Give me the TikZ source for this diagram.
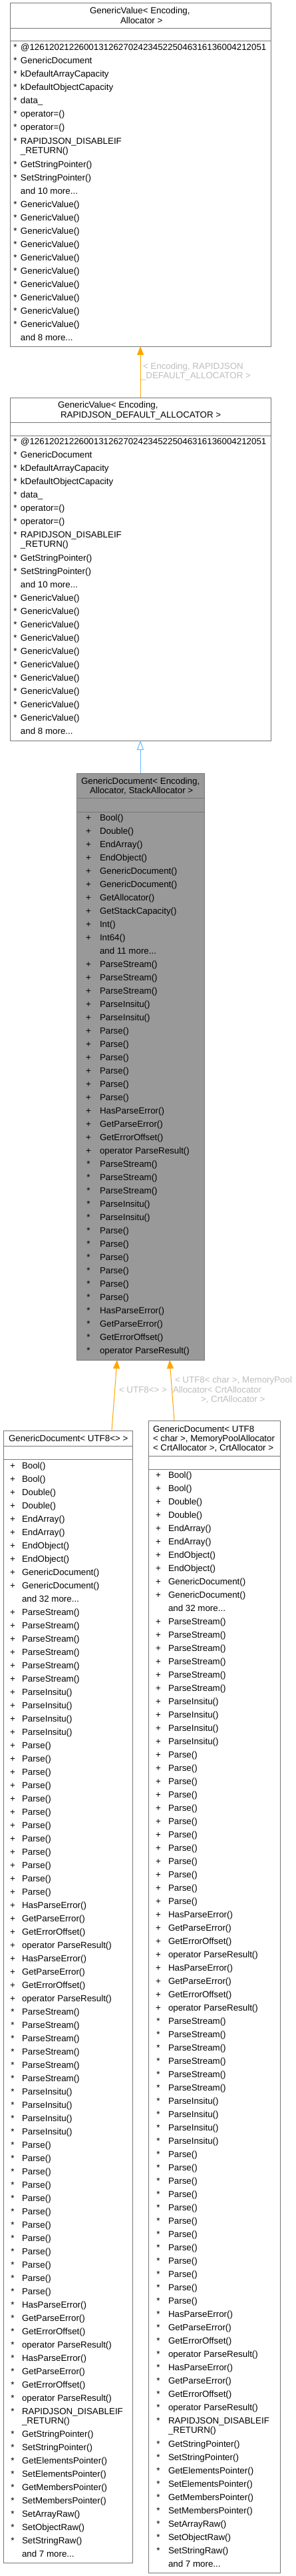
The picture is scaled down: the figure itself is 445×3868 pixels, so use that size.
\documentclass[tikz,border=0pt]{standalone}
\usepackage{fontspec}
\setmainfont{Liberation Sans}
\usetikzlibrary{arrows.meta,calc}
\definecolor{bordergray}{HTML}{777777}
\definecolor{docfill}{HTML}{999999}
\definecolor{tmplorange}{HTML}{FFA500}
\definecolor{inhblue}{HTML}{63B8FF}
\definecolor{lblgray}{HTML}{BEBEBE}
\tikzset{
  umlbox/.style={draw=bordergray, line width=0.75pt, inner sep=0pt, outer sep=0pt, anchor=north west},
  sepline/.style={draw=bordergray, line width=0.75pt},
  itm/.style={inner sep=0pt, outer sep=0pt, font=\fontsize{10}{12}\selectfont},
  ttl/.style={itm, anchor=base west},
  lbl/.style={itm, text=lblgray, anchor=base west},
  tmpl/.style={draw=tmplorange, line width=0.75pt, -{Triangle[length=9.75pt,width=7.5pt]}},
  inh/.style={draw=inhblue, line width=0.75pt, -{Triangle[open,length=10.5pt,width=7.5pt]}}
}
\def\tdots{...}
% #1 name, #2 x1, #3 y1, #4 x2, #5 y2, #6 fill
\newcommand\mkbox[6]{%
  \pgfmathsetmacro\bw{(#4-#2)*0.75}%
  \pgfmathsetmacro\bh{(#5-#3)*0.75}%
  \node[umlbox, fill=#6, minimum width=\bw pt, minimum height=\bh pt] (#1) at (#2,#3) {};}
\newcommand\sepat[2]{\draw[sepline] (#1.west |- 0,#2) -- (#1.east |- 0,#2);}
% #1 prefix, #2 marker x, #3 text x, #4 start y, #5 list macro
\newcommand\itemrows[5]{%
  \foreach \m/\t [count=\i from 0] in #5 {
    \node[itm, anchor=base] (#1m\i) at (#2, {#4+20*\i+4.5}) {\m};
    \node[itm, anchor=base west] (#1t\i) at (#3, {#4+20*\i+4.5}) {\t};
  }}
% two-line RAPIDJSON item: #1 prefix, #2 marker x, #3 text x, #4 y
\newcommand\rjitem[4]{%
  \node[itm, anchor=base] (#1m) at (#2, {#4+4.5}) {*};
  \node[itm, anchor=base west] (#1a) at (#3, {#4+4.5}) {RAPIDJSON\_DISABLEIF};
  \node[itm, anchor=base west] (#1b) at (#3, {#4+18.5}) {\_RETURN()};}

\def\gvlistA{*/@126120212260013126270242345225046316136004212051, */GenericDocument, */kDefaultArrayCapacity, */kDefaultObjectCapacity, */data\_, */operator=(), */operator=()}
\def\gvlistB{*/GetStringPointer(), */SetStringPointer(), {}/and 10 more\tdots, */GenericValue(), */GenericValue(), */GenericValue(), */GenericValue(), */GenericValue(), */GenericValue(), */GenericValue(), */GenericValue(), */GenericValue(), */GenericValue(), {}/and 8 more\tdots}
\def\gdlist{+/Bool(), +/Double(), +/EndArray(), +/EndObject(), +/GenericDocument(), +/GenericDocument(), +/GetAllocator(), +/GetStackCapacity(), +/Int(), +/Int64(), {}/and 11 more\tdots, +/ParseStream(), +/ParseStream(), +/ParseStream(), +/ParseInsitu(), +/ParseInsitu(), +/Parse(), +/Parse(), +/Parse(), +/Parse(), +/Parse(), +/Parse(), +/HasParseError(), +/GetParseError(), +/GetErrorOffset(), +/operator ParseResult(), */ParseStream(), */ParseStream(), */ParseStream(), */ParseInsitu(), */ParseInsitu(), */Parse(), */Parse(), */Parse(), */Parse(), */Parse(), */Parse(), */HasParseError(), */GetParseError(), */GetErrorOffset(), */operator ParseResult()}
\def\ulistA{+/Bool(), +/Bool(), +/Double(), +/Double(), +/EndArray(), +/EndArray(), +/EndObject(), +/EndObject(), +/GenericDocument(), +/GenericDocument(), {}/and 32 more\tdots, +/ParseStream(), +/ParseStream(), +/ParseStream(), +/ParseStream(), +/ParseStream(), +/ParseStream(), +/ParseInsitu(), +/ParseInsitu(), +/ParseInsitu(), +/ParseInsitu(), +/Parse(), +/Parse(), +/Parse(), +/Parse(), +/Parse(), +/Parse(), +/Parse(), +/Parse(), +/Parse(), +/Parse(), +/Parse(), +/Parse(), +/HasParseError(), +/GetParseError(), +/GetErrorOffset(), +/operator ParseResult(), +/HasParseError(), +/GetParseError(), +/GetErrorOffset(), +/operator ParseResult(), */ParseStream(), */ParseStream(), */ParseStream(), */ParseStream(), */ParseStream(), */ParseStream(), */ParseInsitu(), */ParseInsitu(), */ParseInsitu(), */ParseInsitu(), */Parse(), */Parse(), */Parse(), */Parse(), */Parse(), */Parse(), */Parse(), */Parse(), */Parse(), */Parse(), */Parse(), */Parse(), */HasParseError(), */GetParseError(), */GetErrorOffset(), */operator ParseResult(), */HasParseError(), */GetParseError(), */GetErrorOffset(), */operator ParseResult()}
\def\ulistB{*/GetStringPointer(), */SetStringPointer(), */GetElementsPointer(), */SetElementsPointer(), */GetMembersPointer(), */SetMembersPointer(), */SetArrayRaw(), */SetObjectRaw(), */SetStringRaw(), {}/and 7 more\tdots}

\begin{document}
\begin{tikzpicture}[x=0.75pt, y=-0.75pt]
\fill[white] (0,0) rectangle (445,3868);
\useasboundingbox (0,0) rectangle (445,3868);

% ---- Box 1: GenericValue< Encoding, Allocator >
\mkbox{b1}{15}{5}{407}{520}{white}
\sepat{b1}{43}
\sepat{b1}{62}
\node[ttl] (b1h1) at (135,20.5) {GenericValue< Encoding,};
\node[ttl] (b1h2) at (181,36) {Allocator >};
\itemrows{b1a}{23}{31}{71}{\gvlistA}
\rjitem{b1r}{23}{31}{212}
\itemrows{b1b}{23}{31}{247}{\gvlistB}

% ---- Box 2: GenericValue< Encoding, RAPIDJSON_DEFAULT_ALLOCATOR >
\mkbox{b2}{15}{597}{407}{1112}{white}
\sepat{b2}{634}
\sepat{b2}{654}
\node[ttl] (b2h1) at (87,612.5) {GenericValue< Encoding,};
\node[ttl] (b2h2) at (91,627.5) {RAPIDJSON\_DEFAULT\_ALLOCATOR >};
\itemrows{b2a}{23}{31}{663}{\gvlistA}
\rjitem{b2r}{23}{31}{803}
\itemrows{b2b}{23}{31}{838}{\gvlistB}

% ---- Box 3: GenericDocument< Encoding, Allocator, StackAllocator >
\mkbox{b3}{115}{1161}{307}{2042}{docfill}
\sepat{b3}{1198}
\sepat{b3}{1219}
\node[ttl] (b3h1) at (122,1177.5) {GenericDocument< Encoding,};
\node[ttl] (b3h2) at (135,1191.5) {Allocator, StackAllocator >};
\itemrows{b3a}{133}{150}{1228}{\gdlist}

% ---- Box 4: GenericDocument< UTF8<> >
\mkbox{b4}{5}{2148}{199}{3848}{white}
\sepat{b4}{2171}
\sepat{b4}{2191}
\node[ttl] (b4h1) at (13,2164.5) {GenericDocument< UTF8<> >};
\itemrows{b4a}{19}{33}{2201}{\ulistA}
\rjitem{b4r}{19}{33}{3621}
\itemrows{b4b}{19}{33}{3655}{\ulistB}

% ---- Box 5: GenericDocument< UTF8< char >, MemoryPoolAllocator< CrtAllocator >, CrtAllocator >
\mkbox{b5}{223}{2133}{421}{3863}{white}
\sepat{b5}{2186}
\sepat{b5}{2206}
\node[ttl] (b5h1) at (230,2150.5) {GenericDocument< UTF8};
\node[ttl] (b5h2) at (230,2164.5) {< char >, MemoryPoolAllocator};
\node[ttl] (b5h3) at (230,2178.5) {< CrtAllocator >, CrtAllocator >};
\itemrows{b5a}{238}{253}{2215}{\ulistA}
\rjitem{b5r}{238}{253}{3635}
\itemrows{b5b}{238}{253}{3670}{\ulistB}

% ---- Connectors
\draw[tmpl] (b2.north) -- (b1.south);
\node[lbl] (l1a) at (215,554.5) {< Encoding, RAPIDJSON};
\node[lbl] (l1b) at (212,568.5) {\_DEFAULT\_ALLOCATOR >};

\draw[inh] (b3.north) -- (b2.south);

\draw[tmpl] ($(b4.north)+(66,0)$) -- ($(b3.south)+(-35,0)$);
\node[lbl] (l2a) at (179,2091.5) {< UTF8<> >};

\draw[tmpl] ($(b5.north)+(-60,0)$) -- ($(b3.south)+(44,0)$);
\node[lbl] (l3a) at (263,2076.5) {< UTF8< char >, MemoryPool};
\node[lbl] (l3b) at (260,2091.5) {Allocator< CrtAllocator};
\node[lbl] (l3c) at (302,2105.5) {>, CrtAllocator >};
\end{tikzpicture}
\end{document}
